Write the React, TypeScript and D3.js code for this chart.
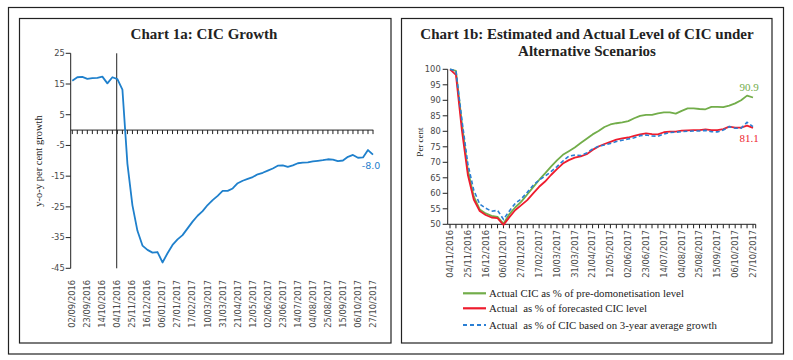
import React from "react";
import * as d3 from "d3";

// ---------- Data ----------
// Chart 1a: weekly y-o-y CIC growth, 02/09/2016 .. 27/10/2017
const growthStart = "02/09/2016";
const cicGrowth = [
  16.1, 17.2, 17.3, 16.7, 16.9, 17.0, 17.4, 15.2, 17.2, 16.6,
  13.2, -11.0, -24.5, -32.8, -37.6, -39.0, -39.9, -39.7, -43.1, -40.1,
  -37.4, -35.6, -34.2, -32.0, -29.8, -27.9, -26.4, -24.4, -22.8, -21.4,
  -19.8, -19.8, -19.0, -17.3, -16.5, -15.9, -15.3, -14.4, -13.9, -13.2,
  -12.5, -11.6, -11.5, -12.0, -11.5, -10.8, -10.6, -10.5, -10.2, -10.0,
  -9.8, -9.5, -9.6, -10.1, -9.9, -8.7, -8.1, -9.0, -8.9, -6.5, -8.0,
];
const growthTicks = [25, 15, 5, -5, -15, -25, -35, -45];
const demonetisationIndex = 9; // 04/11/2016

// Chart 1b: weekly levels, 04/11/2016 .. 27/10/2017
const levelStart = "04/11/2016";
const actualPreDemon = [
  100, 99.5, 82.6, 67.5, 59.0, 54.8, 53.5, 52.7, 52.4, 50.2,
  53.3, 55.5, 57.3, 59.6, 62.0, 64.3, 66.4, 68.6, 70.6, 72.4,
  73.6, 74.8, 76.2, 77.6, 79.0, 80.1, 81.4, 82.2, 82.6, 82.9,
  83.3, 84.2, 85.0, 85.3, 85.3, 85.8, 86.1, 86.1, 85.7, 86.6,
  87.4, 87.4, 87.2, 87.1, 87.9, 87.9, 87.8, 88.3, 89.0, 90.0, 91.5, 90.9,
];
const actualForecast = [
  100, 98.2, 80.4, 66.0, 58.0, 54.3, 53.0, 52.2, 52.0, 49.8,
  52.3, 54.6, 56.2, 57.8, 60.0, 62.1, 63.8, 65.9, 67.8, 69.6,
  70.7, 71.5, 71.9, 72.6, 74.0, 75.1, 75.9, 76.6, 77.3, 77.7,
  78.0, 78.5, 79.0, 79.3, 79.1, 79.0, 79.7, 79.9, 79.9, 80.2,
  80.3, 80.4, 80.4, 80.6, 80.4, 80.4, 80.7, 81.5, 81.2, 81.2, 81.8, 81.1,
];
const actualAvgGrowth = [
  100, 99.5, 83.7, 69.5, 61.0, 56.5, 55.2, 54.2, 54.5, 51.6,
  54.3, 56.8, 58.2, 60.3, 62.6, 64.3, 65.5, 67.0, 68.6, 70.4,
  72.0, 72.3, 72.2, 73.0, 74.3, 75.2, 75.6, 76.1, 76.7, 77.1,
  77.5, 77.9, 78.6, 78.8, 78.5, 78.4, 79.1, 79.6, 79.7, 79.9,
  80.0, 80.1, 80.1, 80.3, 79.9, 79.8, 80.4, 81.5, 81.0, 81.0, 82.9, 81.5,
];
const levelTicks = [100, 95, 90, 85, 80, 75, 70, 65, 60, 55, 50];
const legendLabels = [
  "Actual CIC as % of pre-domonetisation level",
  "Actual  as % of forecasted CIC level",
  "Actual  as % of CIC based on 3-year average growth",
];

// ---------- helpers ----------
const parse = d3.timeParse("%d/%m/%Y");
const fmt = d3.timeFormat("%d/%m/%Y");
function weeklyLabels(start: string, n: number): string[] {
  const s = parse(start) as Date;
  return d3.range(n).map((i) => fmt(d3.timeDay.offset(s, i * 7)));
}

const SANS = "'DejaVu Sans', Verdana, sans-serif";
const SERIF = "'Liberation Serif', 'Times New Roman', serif";
const BLUE = "#1f80cc";
const GREEN = "#72ad4a";
const RED = "#ee1c2e";
const DBLUE = "#2a7fd4";
const TICKCOL = "#4a4a4a";

export default function App() {
  const gLabels = weeklyLabels(growthStart, cicGrowth.length);
  const lLabels = weeklyLabels(levelStart, actualPreDemon.length);

  // Left chart scales
  const xL = d3.scalePoint<number>().domain(d3.range(cicGrowth.length)).range([72.3, 373]);
  const yL = d3.scaleLinear().domain([-45, 25]).range([268.3, 53.3]);
  const lineL = d3.line<number>().x((_, i) => xL(i) as number).y((d) => yL(d));
  const axisLX = 70.7;

  // Right chart scales
  const xR = d3.scalePoint<number>().domain(d3.range(actualPreDemon.length)).range([450, 753]);
  const yR = d3.scaleLinear().domain([50, 100]).range([224.3, 69.3]);
  const lineR = d3.line<number>().x((_, i) => xR(i) as number).y((d) => yR(d));
  const axisRX = 447.7;

  const last = (a: number[]) => a[a.length - 1];

  return (
    <svg width={793} height={360} style={{ position: "absolute", left: 0, top: 0, background: "#fff" }}>
      {/* frames */}
      <rect x={8.5} y={7.5} width={775} height={346.5} fill="none" stroke="#222" strokeWidth={1.2} />
      <rect x={19.5} y={18.5} width={371.5} height={324.5} fill="none" stroke="#222" strokeWidth={1.2} />
      <rect x={401.5} y={18.5} width={370.5} height={324.5} fill="none" stroke="#222" strokeWidth={1.2} />

      {/* ===== Left chart ===== */}
      <text x={204} y={39} textAnchor="middle" fontFamily={SERIF} fontWeight="bold" fontSize={15} fill="#222">
        Chart 1a: CIC Growth
      </text>
      {/* y axis */}
      <line x1={axisLX} x2={axisLX} y1={yL(25)} y2={yL(-45)} stroke="#222" strokeWidth={1} />
      {growthTicks.map((t) => (
        <g key={t}>
          <line x1={axisLX - 5} x2={axisLX} y1={yL(t)} y2={yL(t)} stroke="#222" />
          <text x={axisLX - 6} y={yL(t)} dy="0.35em" textAnchor="end" fontFamily={SANS} fontSize={8.3} fill={TICKCOL}>
            {t}
          </text>
        </g>
      ))}
      <text transform={`translate(38,161) rotate(-90)`} textAnchor="middle" dy="0.35em" fontFamily={SERIF} fontSize={10.5} fill="#222">
        y-o-y per cent growth
      </text>
      {/* zero axis with ticks */}
      <line x1={axisLX} x2={373.3} y1={yL(0)} y2={yL(0)} stroke="#222" strokeWidth={1} />
      {cicGrowth.map((_, i) => (
        <line key={i} x1={xL(i)} x2={xL(i)} y1={yL(0)} y2={yL(0) + 4} stroke="#222" />
      ))}
      {/* demonetisation marker */}
      <line
        x1={(xL(demonetisationIndex) as number) - 0.7}
        x2={(xL(demonetisationIndex) as number) - 0.7}
        y1={yL(25)}
        y2={yL(-45)}
        stroke="#222"
        strokeWidth={1}
      />
      {/* x labels */}
      {gLabels.map((lab, i) =>
        i % 3 === 0 ? (
          <text
            key={lab}
            transform={`translate(${xL(i)},280) rotate(-90)`}
            dy="0.35em"
            textAnchor="end"
            fontFamily={SANS}
            fontSize={8.3}
            fill={TICKCOL}
          >
            {lab}
          </text>
        ) : null
      )}
      <path d={lineL(cicGrowth) as string} fill="none" stroke={BLUE} strokeWidth={1.8} strokeLinejoin="round" />
      <text x={371} y={166} dy="0.35em" textAnchor="middle" fontFamily={SANS} fontSize={9.5} fill={BLUE}>
        {last(cicGrowth).toFixed(1)}
      </text>

      {/* ===== Right chart ===== */}
      <text x={587} y={39} textAnchor="middle" fontFamily={SERIF} fontWeight="bold" fontSize={15} fill="#222">
        Chart 1b: Estimated and Actual Level of CIC under
      </text>
      <text x={587} y={56} textAnchor="middle" fontFamily={SERIF} fontWeight="bold" fontSize={15} fill="#222">
        Alternative Scenarios
      </text>
      <line x1={axisRX} x2={axisRX} y1={yR(100)} y2={yR(50)} stroke="#222" strokeWidth={1} />
      {levelTicks.map((t) => (
        <g key={t}>
          <line x1={axisRX - 5} x2={axisRX} y1={yR(t)} y2={yR(t)} stroke="#222" />
          <text x={axisRX - 7} y={yR(t)} dy="0.35em" textAnchor="end" fontFamily={SANS} fontSize={8.3} fill={TICKCOL}>
            {t}
          </text>
        </g>
      ))}
      <text transform={`translate(420,142) rotate(-90)`} textAnchor="middle" dy="0.35em" fontFamily={SERIF} fontSize={9} fill="#222">
        Per cent
      </text>
      <line x1={axisRX} x2={755.7} y1={yR(50)} y2={yR(50)} stroke="#222" strokeWidth={1} />
      {actualPreDemon.map((_, i) => (
        <line key={i} x1={xR(i)} x2={xR(i)} y1={yR(50)} y2={yR(50) + 4} stroke="#222" />
      ))}
      <line x1={755.7} x2={755.7} y1={yR(50)} y2={yR(50) + 4} stroke="#222" />
      {lLabels.map((lab, i) =>
        i % 3 === 0 ? (
          <text
            key={lab}
            transform={`translate(${xR(i)},230) rotate(-90)`}
            dy="0.35em"
            textAnchor="end"
            fontFamily={SANS}
            fontSize={8.3}
            fill={TICKCOL}
          >
            {lab}
          </text>
        ) : null
      )}
      <path d={lineR(actualPreDemon) as string} fill="none" stroke={GREEN} strokeWidth={1.8} strokeLinejoin="round" />
      <path d={lineR(actualForecast) as string} fill="none" stroke={RED} strokeWidth={1.8} strokeLinejoin="round" />
      <path d={lineR(actualAvgGrowth) as string} fill="none" stroke={DBLUE} strokeWidth={1.6} strokeDasharray="4,2.5" />
      <text x={749} y={91} textAnchor="middle" fontFamily={SERIF} fontSize={11} fill={GREEN}>
        {last(actualPreDemon).toFixed(1)}
      </text>
      <text x={749} y={142} textAnchor="middle" fontFamily={SERIF} fontSize={11} fill={RED}>
        {last(actualForecast).toFixed(1)}
      </text>

      {/* legend */}
      {legendLabels.map((lab, i) => {
        const y = [293.3, 308.3, 325][i];
        const col = [GREEN, RED, DBLUE][i];
        return (
          <g key={lab}>
            <line x1={463} x2={486} y1={y} y2={y} stroke={col} strokeWidth={2.2} strokeDasharray={i === 2 ? "4,3" : undefined} />
            <text x={489} y={y} dy="0.33em" fontFamily={SERIF} fontSize={10.8} fill="#222" style={{ whiteSpace: "pre" }}>
              {lab}
            </text>
          </g>
        );
      })}
    </svg>
  );
}
